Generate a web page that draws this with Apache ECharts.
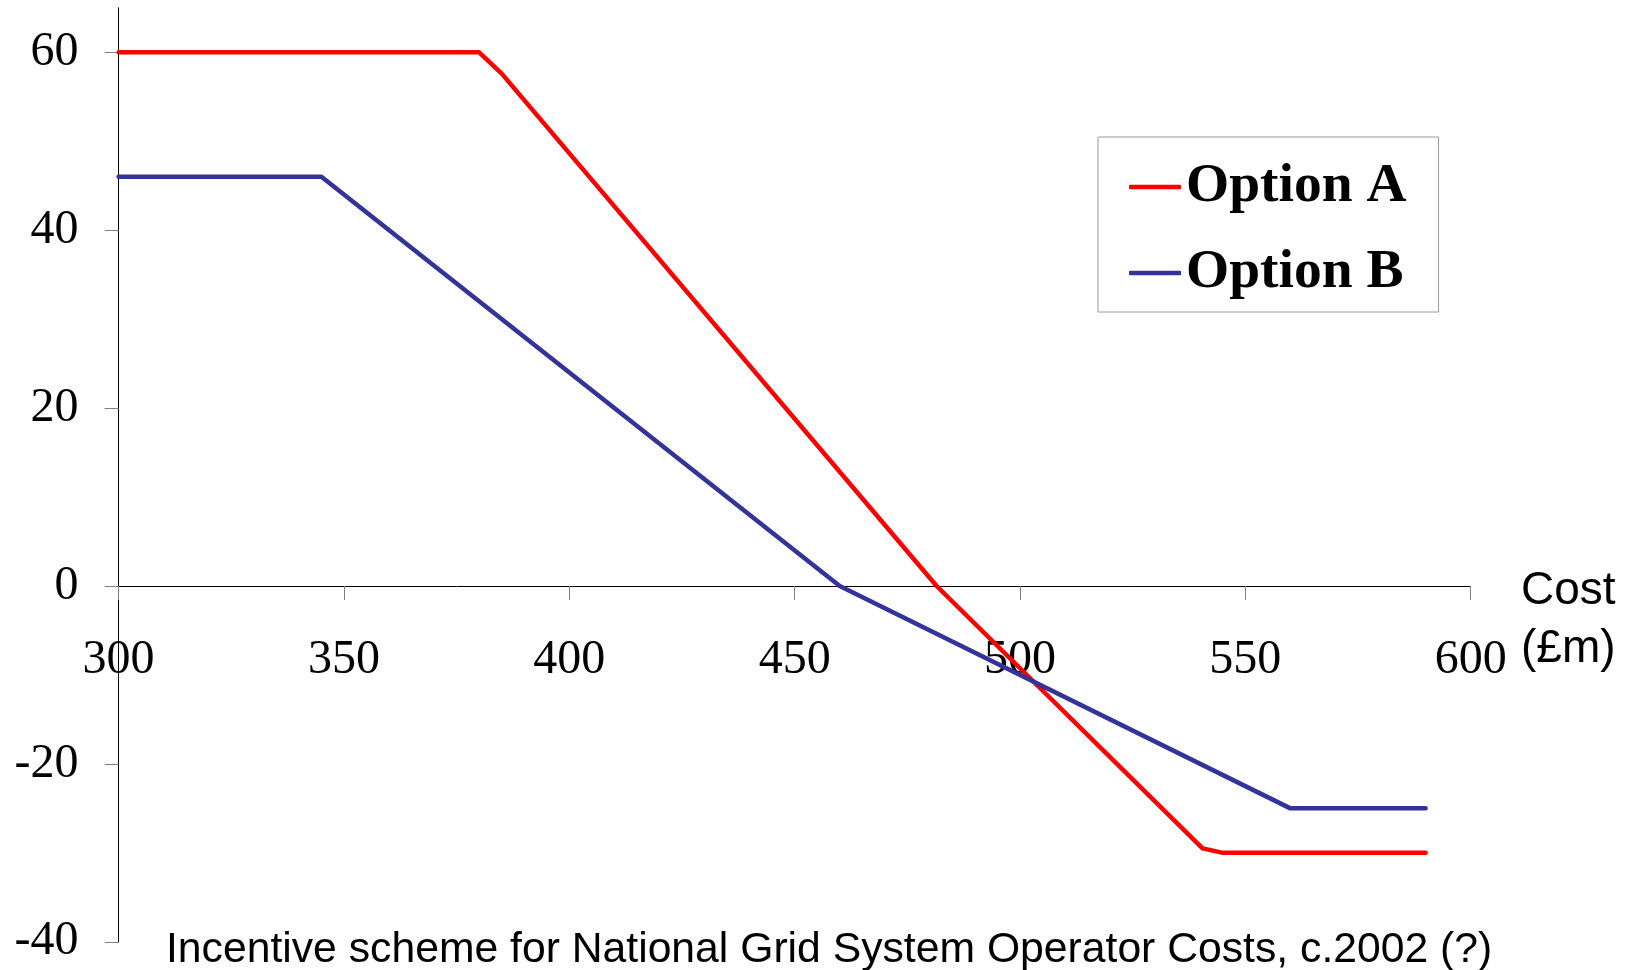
<!DOCTYPE html>
<html>
<head>
<meta charset="utf-8">
<script src="https://cdn.jsdelivr.net/npm/echarts@6/dist/echarts.min.js"></script>
<style>
html,body{margin:0;padding:0;background:#fff;}
#chart{width:1632px;height:970px;}
</style>
</head>
<body>
<div id="chart"></div>
<script>
// Data
var costA = [300, 380, 385, 481.5, 540.5, 545, 590];
var valueA = [60, 60, 57.6, 0, -29.5, -30, -30];
var costB = [300, 345, 460, 560, 590];
var valueB = [46, 46, 0, -25, -25];
var xTicks = [300, 350, 400, 450, 500, 550, 600];
var yTicks = [-40, -20, 0, 20, 40, 60];
var seriesNames = ['Option A', 'Option B'];
var xName = 'Cost\n(£m)';
var caption = 'Incentive scheme for National Grid System Operator Costs, c.2002 (?)';

function pairs(xs, ys) { return xs.map(function (x, i) { return [x, ys[i]]; }); }

// layout: plot area and the pixel row of y = 0 (so tick labels sit under the zero line)
var H = 970, gTop = 7.8, gBottom = 28.2, yMin = -40, yMax = 65;
var zeroRow = gTop + (yMax - 0) / (yMax - yMin) * (H - gTop - gBottom);

var chart = echarts.init(document.getElementById('chart'), null, { renderer: 'canvas' });
chart.setOption({
  backgroundColor: '#ffffff',
  animation: false,
  title: [
    {
      text: xName,
      left: 1516, top: 557,
      textStyle: { fontFamily: 'Liberation Sans', fontSize: 46, fontWeight: 'normal', color: '#000', lineHeight: 58 }
    },
    {
      text: caption,
      left: 161, top: 924,
      textStyle: { fontFamily: 'Liberation Sans', fontSize: 42.7, fontWeight: 'normal', color: '#000' }
    }
  ],
  legend: {
    orient: 'vertical',
    left: 1098, top: 137,
    padding: [22, 32, 11, 31],
    icon: 'roundRect',
    itemWidth: 52, itemHeight: 4.5, itemGap: 30,
    borderColor: '#999999', borderWidth: 1,
    backgroundColor: '#ffffff',
    textStyle: { fontFamily: 'Liberation Serif', fontSize: 55.5, fontWeight: 'bold', color: '#000' },
    data: seriesNames
  },
  grid: [
    { left: 118.6, right: 161.3, top: gTop, bottom: gBottom, containLabel: false, outerBoundsMode: 'none' },
    { left: 118.6, right: 161.3, top: gTop, bottom: H - zeroRow, containLabel: false, outerBoundsMode: 'none' }
  ],
  xAxis: [
    {
      type: 'value', min: 300, max: 600, interval: 50, gridIndex: 0,
      axisLine: { onZero: true, lineStyle: { color: '#000', width: 1 } },
      axisTick: { show: false },
      axisLabel: { show: false },
      splitLine: { show: false }
    },
    {
      type: 'value', min: 300, max: 600, interval: 50, gridIndex: 1, position: 'bottom',
      axisLine: { show: false, onZero: false },
      axisTick: { show: true, length: 14, lineStyle: { color: '#808080' }, customValues: xTicks },
      axisLabel: { margin: 50, fontFamily: 'Liberation Serif', fontSize: 48, color: '#000', customValues: xTicks },
      splitLine: { show: false }
    }
  ],
  yAxis: [
    {
      type: 'value', min: yMin, max: yMax, interval: 20, gridIndex: 0,
      axisLine: { show: true, onZero: false, lineStyle: { color: '#000', width: 1 } },
      axisTick: { show: true, length: 14, lineStyle: { color: '#808080' }, customValues: yTicks },
      axisLabel: { margin: 40, fontFamily: 'Liberation Serif', fontSize: 48, color: '#000', customValues: yTicks },
      splitLine: { show: false }
    },
    {
      type: 'value', min: 0, max: 1, gridIndex: 1, show: false
    }
  ],
  series: [
    {
      name: seriesNames[0], type: 'line', data: pairs(costA, valueA),
      xAxisIndex: 0, yAxisIndex: 0,
      symbol: 'none', showSymbol: false,
      lineStyle: { color: '#FF0000', width: 4.5, cap: 'round', join: 'round' },
      itemStyle: { color: '#FF0000' }
    },
    {
      name: seriesNames[1], type: 'line', data: pairs(costB, valueB),
      xAxisIndex: 0, yAxisIndex: 0,
      symbol: 'none', showSymbol: false,
      lineStyle: { color: '#333399', width: 4.5, cap: 'round', join: 'round' },
      itemStyle: { color: '#333399' }
    }
  ]
});
</script>
</body>
</html>
